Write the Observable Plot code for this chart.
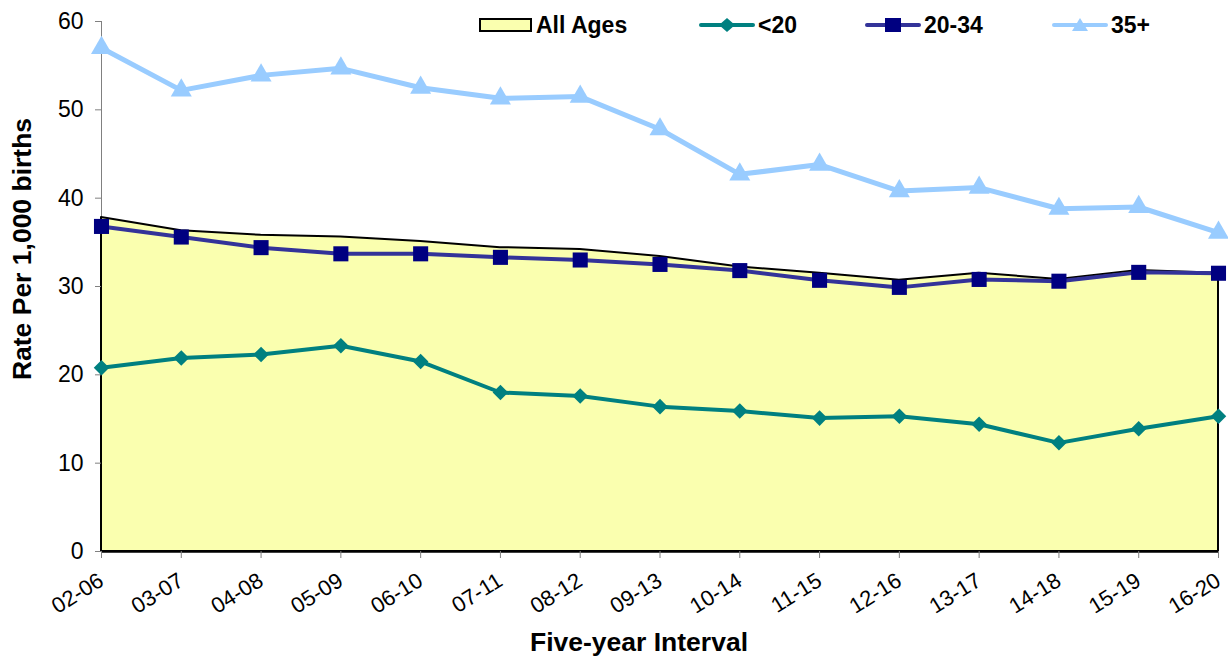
<!DOCTYPE html>
<html>
<head>
<meta charset="utf-8">
<script src="https://cdn.jsdelivr.net/npm/d3@7"></script>
<script src="https://cdn.jsdelivr.net/npm/@observablehq/plot@0.6"></script>
<style>
  html, body { margin: 0; padding: 0; background: #fff; }
  #wrap { position: relative; width: 1228px; height: 658px; font-family: "Liberation Sans", Arial, sans-serif; }
  #chart svg { display: block; }
  #chart g[aria-label="y-axis tick label"] { font-size: 23px !important; fill: #000; }
  #chart g[aria-label="x-axis tick label"] { font-size: 22px !important; fill: #000; }
  .leg { position: absolute; top: 12px; display: flex; align-items: center; font-weight: bold; font-size: 23px; color: #000; height: 26px; }
  .ytitle { position: absolute; left: 22px; top: 249px; transform: translate(-50%, -50%) rotate(-90deg); font-weight: bold; font-size: 26.5px; white-space: nowrap; }
  .xtitle { position: absolute; left: 639px; top: 642px; transform: translate(-50%, -50%); font-weight: bold; font-size: 26.5px; white-space: nowrap; }
</style>
</head>
<body>
<div id="wrap">
  <div id="chart"></div>
  <div class="ytitle">Rate Per 1,000 births</div>
  <div class="xtitle">Five-year Interval</div>
</div>
<script>
const intervals = ["02-06","03-07","04-08","05-09","06-10","07-11","08-12","09-13","10-14","11-15","12-16","13-17","14-18","15-19","16-20"];
const allAges = [37.8, 36.3, 35.8, 35.6, 35.1, 34.4, 34.2, 33.4, 32.2, 31.5, 30.7, 31.5, 30.8, 31.8, 31.5];
const under20 = [20.8, 21.9, 22.3, 23.3, 21.5, 18.0, 17.6, 16.4, 15.9, 15.1, 15.3, 14.4, 12.3, 13.9, 15.3];
const age20to34 = [36.8, 35.6, 34.4, 33.7, 33.7, 33.3, 33.0, 32.5, 31.8, 30.7, 29.9, 30.8, 30.6, 31.6, 31.5];
const age35plus = [57.0, 52.2, 53.9, 54.7, 52.5, 51.3, 51.5, 47.8, 42.7, 43.8, 40.8, 41.2, 38.8, 39.0, 36.1];
const yTicks = [0, 10, 20, 30, 40, 50, 60];

const toRows = (vals) => intervals.map((k, i) => ({k, v: vals[i]}));
const rAll = toRows(allAges), r20 = toRows(under20), r2034 = toRows(age20to34), r35 = toRows(age35plus);

const chart = Plot.plot({
  width: 1228,
  height: 658,
  marginLeft: 101,
  marginRight: 10,
  marginTop: 21,
  marginBottom: 107,
  style: { fontFamily: "Liberation Sans, Arial, sans-serif", background: "transparent" },
  x: { type: "point", domain: intervals, padding: 0, inset: 0, round: false },
  y: { domain: [0, 60] },
  marks: [
    Plot.ruleX([intervals[0]], { stroke: "#808080", strokeWidth: 1 }),
    Plot.areaY(rAll, { x: "k", y: "v", fill: "#FAFFAF", stroke: "#000", strokeWidth: 2, curve: "linear" }),
    Plot.ruleY([0], { stroke: "#000", strokeWidth: 2.5 }),
    Plot.axisY({ ticks: yTicks, tickSize: 6, tickPadding: 12, stroke: "#808080", label: null, tickFormat: d => d }),
    Plot.axisX({ tickSize: 7, tickPadding: 20, tickRotate: -32, stroke: "#808080", label: null }),
    Plot.lineY(r20, { x: "k", y: "v", stroke: "#008080", strokeWidth: 4 }),
    Plot.dot(r20, { x: "k", y: "v", symbol: "diamond2", r: 7, fill: "#008080", stroke: "none" }),
    Plot.lineY(r2034, { x: "k", y: "v", stroke: "#333399", strokeWidth: 4 }),
    Plot.dot(r2034, { x: "k", y: "v", symbol: "square", r: 8.5, fill: "#000080", stroke: "none" }),
    Plot.lineY(r35, { x: "k", y: "v", stroke: "#99CCFF", strokeWidth: 5 }),
    Plot.dot(r35, { x: "k", y: "v", symbol: "triangle", r: 7.8, fill: "#99CCFF", stroke: "none" })
  ]
});
document.getElementById("chart").appendChild(chart);

// Legend
const legendItems = [
  { label: "All Ages", kind: "area", color: "#FAFFAF", left: 478 },
  { label: "<20", kind: "line", color: "#008080", marker: "diamond", mcolor: "#008080", left: 698 },
  { label: "20-34", kind: "line", color: "#333399", marker: "square", mcolor: "#000080", left: 864 },
  { label: "35+", kind: "line", color: "#99CCFF", marker: "triangle", mcolor: "#99CCFF", left: 1051 }
];
const wrap = document.getElementById("wrap");
for (const it of legendItems) {
  const d = document.createElement("div");
  d.className = "leg";
  d.style.left = it.left + "px";
  let sw;
  if (it.kind === "area") {
    sw = `<svg width="56" height="18"><rect x="2" y="3" width="51" height="12" fill="${it.color}" stroke="#000" stroke-width="2"/></svg>`;
  } else {
    let m = "";
    if (it.marker === "diamond") m = `<path d="M29,2 L37,9 L29,16 L21,9 Z" fill="${it.mcolor}"/>`;
    if (it.marker === "square") m = `<rect x="21" y="2" width="16" height="14" fill="${it.mcolor}"/>`;
    if (it.marker === "triangle") m = `<path d="M29,2 L37,15 L21,15 Z" fill="${it.mcolor}"/>`;
    sw = `<svg width="58" height="18"><line x1="3" y1="9" x2="55" y2="9" stroke="${it.color}" stroke-width="4" stroke-linecap="round"/>${m}</svg>`;
  }
  d.innerHTML = sw + `<span style="margin-left:2px">${it.label}</span>`;
  wrap.appendChild(d);
}
</script>
</body>
</html>
